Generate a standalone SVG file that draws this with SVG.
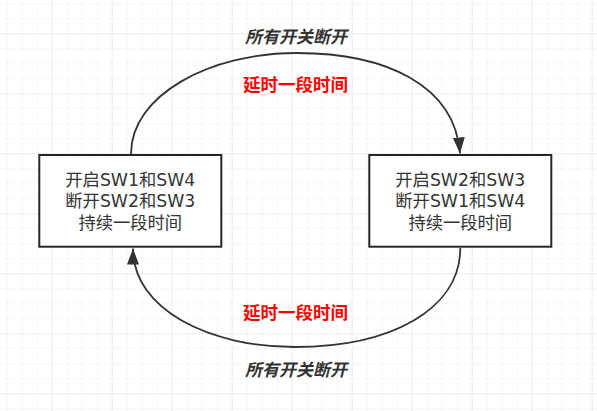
<svg xmlns="http://www.w3.org/2000/svg" width="597" height="411" viewBox="0 0 597 411">
  <defs>
    <pattern id="minor" x="6.7" y="3.3" width="15" height="15" patternUnits="userSpaceOnUse">
      <path d="M0,0 H15 M0,0 V15" fill="none" stroke="#f0f0f0" stroke-width="1"/>
    </pattern>
    <pattern id="major" x="51.7" y="33.3" width="60" height="60" patternUnits="userSpaceOnUse">
      <path d="M0,0 H60 M0,0 V60" fill="none" stroke="#e3e3e3" stroke-width="1"/>
    </pattern>
    <marker id="arrow" markerUnits="userSpaceOnUse" markerWidth="17" markerHeight="13" refX="16" refY="6" orient="auto" viewBox="0 0 17 12">
      <path d="M0,0 L16,6 L0,12 Z" fill="#333333"/>
    </marker>
    <style>
      .box { fill: #ffffff; stroke: #262626; stroke-width: 2; }
      .boxtext { font-family: "DejaVu Sans", "Noto Sans CJK SC", sans-serif; font-size: 17.3px; fill: #333333; text-anchor: middle; }
      .edge { fill: none; stroke: #333333; stroke-width: 1.8; }
      .red { font-family: "Noto Sans CJK SC", sans-serif; font-size: 17.5px; font-weight: bold; fill: #ff0000; text-anchor: middle; }
      .ital { font-family: "Noto Sans CJK SC", sans-serif; font-size: 17px; font-weight: bold; font-style: italic; fill: #333333; text-anchor: middle; }
    </style>
  </defs>
  <rect x="0" y="0" width="597" height="411" fill="#ffffff"/>
  <rect x="0" y="0" width="597" height="411" fill="url(#minor)"/>
  <rect x="0" y="0" width="597" height="411" fill="url(#major)"/>

  <g id="connectors">
    <path class="edge" d="M131,154 C131,95 210,53 297,53 C385,53 455,85 460,153.5" marker-end="url(#arrow)"/>
    <path class="edge" d="M460.3,248 C460.3,310 390,347 295,347 C210,347 133,310 133,248.5" marker-end="url(#arrow)"/>
  </g>

  <g id="label-top-italic"><text class="ital" x="296" y="43">所有开关断开</text></g>
  <g id="label-top-red"><text class="red" x="295.5" y="91">延时一段时间</text></g>
  <g id="label-bottom-red"><text class="red" x="295.5" y="319">延时一段时间</text></g>
  <g id="label-bottom-italic"><text class="ital" x="296" y="376">所有开关断开</text></g>

  <g id="node-left">
    <rect class="box" x="39.3" y="155" width="182" height="91.7"/>
    <text class="boxtext" x="130.3" y="185.5">开启SW1和SW4</text>
    <text class="boxtext" x="130.3" y="207">断开SW2和SW3</text>
    <text class="boxtext" x="130.3" y="228.5">持续一段时间</text>
  </g>
  <g id="node-right">
    <rect class="box" x="369.3" y="155" width="182" height="91.7"/>
    <text class="boxtext" x="460.3" y="185.5">开启SW2和SW3</text>
    <text class="boxtext" x="460.3" y="207">断开SW1和SW4</text>
    <text class="boxtext" x="460.3" y="228.5">持续一段时间</text>
  </g>
</svg>
